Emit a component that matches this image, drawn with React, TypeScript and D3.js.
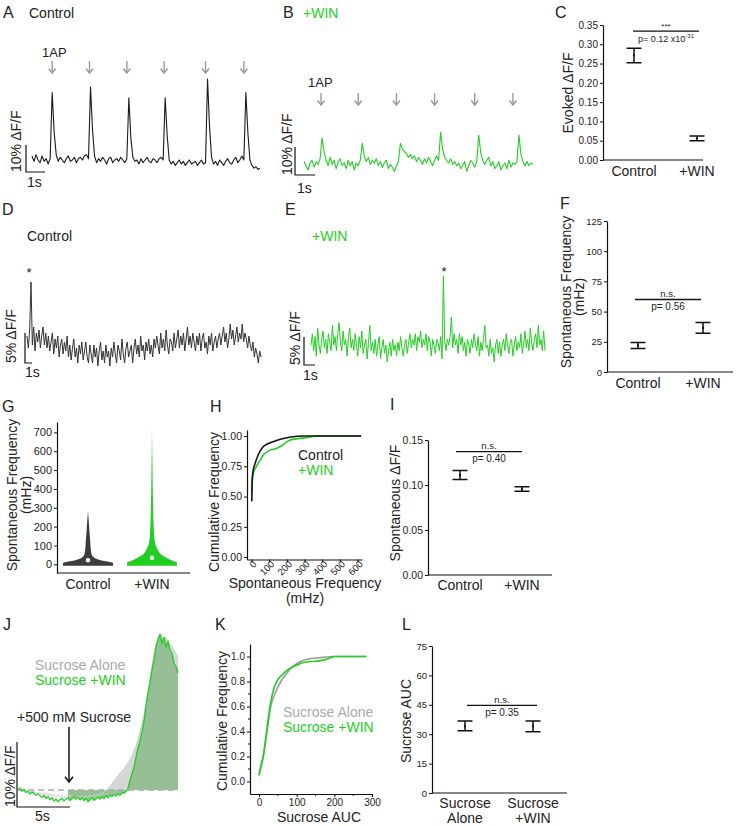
import React, { useRef, useEffect } from 'react';
import * as d3 from 'd3';

const FONT = '"Liberation Sans", Arial, sans-serif';
const GREEN = '#21cf21';
const INK = '#222';
const ARROW = '#9a9a9a';

// A: control, evoked 1AP responses (% dF/F, fixed sample step)
const A_TRACE = [1.5, -0.5, 2, 0, -1, 1.5, -0.5, 0.5, -1.5, 0.5,
  25, 10, 2,
  -0.5, 1, 0, -1, 0.5, 1.5, -0.5, 0, 1, -1, 0.5, 1, 0, 1.5, 2, 0.5,
  27, 11, 1.5,
  -1, 0.5, -0.5, 1, 0, -1.5, 0.5, 1, -1, 0, 0.5, -0.5, 1, 0, -1, 0.5,
  23, 8, 1,
  -0.5, 0, -1.5, 0.5, -1, 0, 1, -0.5, -1, 0.5, 0, -1, 0.5, 1, 0,
  23, 9, 0,
  -1.5, -0.5, -2, -1, 0, -1.5, -0.5, -2, -1, 0, -1.5, -1, -0.5, -2, -1, 0, -1.5, -1,
  30, 12, 1,
  -1.5, -0.5, -2, 0, -1, -2, -0.5, 0.5, -1, -1.5, 0, 1, -1, 0, 1.5, 0,
  25, 10, 0,
  -2, -3, -2.5, -3.5, -3];
const A_STIM = [10, 28.5, 47, 65.5, 86, 105];

// B: +WIN, evoked responses
const B_TRACE = [0.5, -1, -2.5, 0, 1, -1.5, 0.5, -0.5, 1.5,
  9, 4, 1,
  -1, 2, -0.5, 1, -2, 0.5, 1.5, -1, 0, -2, 1, -1, 0.5, -2.5, 0, -1, 1,
  7, 2.5,
  0.5, 2, -0.5, 1, 0, 1.5, -1, 0.5, -1.5, 0, 1, -2, -0.5, -1.5, -3, -1, 0.5,
  7, 5, 4, 3.5, 2, 3, 1.5, 2.5,
  0.5, 2, 1, -0.5, 1.5, 0, 2, 0.5, -1, 1, 2.5, 1,
  11, 5, 2,
  1, 0, 1.5, -0.5, 0.5, -1, 0, -2, -1, 0.5, -3, -1, 1, 0, -1.5, 0.5,
  10, 3.5, 1,
  -0.5, 1, 2, -1, 0.5, -2, -1, 0.5, -2.5, -1, 0, -2, 1, -1.5, 0, -0.5, 0.5,
  10, 3, 0.5,
  -1, 0.5, -1, 0, -0.5];
const B_STIM = [8.5, 27, 46, 65, 85, 104];

// D: control, spontaneous
const D_TRACE = [
  1.5, -0.5, 2.5, 10.5, 0, 3, -1, 2, 0.5, 2.5, -0.5, 1.5, 3, 0, 2, -0.5,
  1.5, -1, 0.5, 2, -1.5, 1, -0.5, 1.5, -2, 0, 1, -1.5, 0.5, -1, 1.5, -2,
  0, -2.5, -0.5, 1, -2, -0.5, -3, 0, -1.5, 0.5, -2.5, -1, 0.5, -2, -3, 0,
  -1.5, -3, 0, -2, -0.5, -3.5, -1, 0.5, -2.5, -1, -3, 0, -2, -1, -3.5, -0.5,
  -2, 0.5, -1.5, -3, 0, -1, -2.5, 1, -1.5, -3, -0.5, 0.5, -2, -1, 0, -3,
  -0.5, 1, -1.5, 0, -2, 1.5, -1, 0, -2.5, 0.5, -1, 1, -1.5, 0, -2, 1,
  -0.5, 1.5, 0, -1.5, 2, -0.5, 1, -1, 2.5, 0, -1.5, 1, 0.5, -1, 2, -0.5,
  1, 2.5, -0.5, 1.5, 0, 2, -1, 1, 3, 0, 1.5, -0.5, 2, 0.5, -1, 1.5,
  0, 2, -1, 1, 2, -0.5, 0.5, -1.5, 1.5, 0, 2, -1, 0.5, 1.5, -0.5, 1,
  2, 0, 1.5, 3, 0.5, 2, -0.5, 1, 3.5, 1, 2.5, 0, 1.5, 3, 0.5, 2,
  1, 3.5, 0.5, 2, 1, -0.5, 1.5, 0, -1, 0.5, -2, -0.5, -1.5, -3, -1, -2];

// E: +WIN, spontaneous
const E_TRACE = [
  0, 2, -1, 1.5, -2, 3, 0, -1.5, 1, 2.5, -0.5, 1, -1.5, 2, 0.5, -1,
  3.5, 0, 1.5, -1, 2, 4, 0.5, -1, 2.5, 0, 1, -2, 1.5, 3, -0.5, 1,
  -1, 2, 0, -2, 1.5, -0.5, 2.5, -1.5, 0, 1, -2.5, 0.5, 3.5, -1, 0.5, -1.5,
  1, -2, 0, 1.5, -2.5, -0.5, 1, -1.5, 0, -3, -1, 0.5, -2, 1, -1, 0,
  -2, 0.5, -1, 1.5, -0.5, -2, 0, 1, -1.5, 0.5, 2, -0.5, 1, 0, 2, -1,
  1.5, 0.5, 2.5, -0.5, 1, 0, 2, -1, 1.5, 0.5, -2, 1, 0, -1.5, 1, 0.5,
  -1, 1.5, -2.5, 12.3, 0.5, -1, 1, 0, 1.5, 5, -0.5, 2, 0, 1, -1.5, 2,
  0, 1.5, -1, 0.5, -2, 1, 0, -1.5, 1, -0.5, 2, 0, -1, 1.5, -2, 0.5,
  -1, 1, 3.5, -0.5, 0, -2, 1, -1.5, -0.5, -3, 0, 1, -1.5, 0.5, -2, 0,
  1, -1, 2, 0, -1.5, 0.5, 1, -2, 0, 1.5, -1, 0.5, -0.5, 2, -1.5, 0,
  2.5, -0.5, 1, -1, 3, 0.5, -1, 1, 2, -0.5, 3.5, 0, 1, -1, 2.5, -1];

// J: sucrose responses (% dF/F)
const J_WIN = [0, 0.3, -0.2, 0.1, -0.4, -0.2, -0.6, -0.3, -0.5, -0.8,
  -0.6, -0.9, -1.1, -0.8, -1.3, -1.0, -1.5, -1.2, -1.7, -1.4,
  -1.8, -1.5, -1.3, -1.7, -1.4, -1.2, -1.6, -1.3, -1.0, -1.4,
  -1.1, -1.5, -1.2, -1.6, -1.3, -1.8, -1.5, -1.2, -1.6, -1.4,
  -1.1, -1.4, -1.0, -1.3, -0.9, -1.2, -0.8, -1.0, -0.7, -0.9,
  -0.6, -0.8, -0.4, -0.5, -0.2, 0.2, 1.5, 2.5, 3.5, 5.0,
  6.5, 7.5, 9, 10.5, 13, 15, 16.5, 18.5, 20, 22,
  23, 24, 22.5, 23.5, 22, 22.8, 21.5, 21, 19.5, 19, 18];
const J_ALONE = [0.2, 0, 0.1, -0.2, 0, -0.3, -0.1, -0.4, -0.2, -0.5,
  -0.3, -0.6, -0.4, -0.7, -0.5, -0.8, -0.6, -0.9, -0.7, -1.0,
  -0.8, -1.0, -0.9, -1.1, -0.9,
  -1.0, -0.8, -1.1, -0.9, -1.2, -1.0, -1.1, -0.9, -1.2, -1.0, -1.1, -0.8, -1.0, -0.7, -0.9,
  -0.6, -0.8, -0.5, -0.3, -0.1, 0.2, 0.6, 1.0, 1.4, 1.8,
  2.2, 2.6, 2.9, 3.3, 3.7, 4.2, 4.7, 5.3, 6.0, 6.8,
  7.8, 9.0, 10.2, 11.6, 13.2, 15.0, 17.0, 19.0, 21.0, 22.5,
  23.5, 24.0, 23.8, 23.0, 23.5, 22.8, 22.5, 22.0, 21.5, 21.0, 20.5];
const J_ONSET = 25;

// G: violin outlines (value in mHz, relative density)
const G_CTRL_V = [-8, 6, 12, 20, 28, 40, 55, 80, 120, 170, 220, 280];
const G_CTRL_D = [1, 1, 0.88, 0.56, 0.36, 0.2, 0.14, 0.11, 0.09, 0.06, 0.036, 0];
const G_WIN_V = [-8, 8, 20, 32, 45, 58, 85, 120, 210, 330, 500, 725];
const G_WIN_D = [1, 1, 0.8, 0.62, 0.44, 0.32, 0.2, 0.11, 0.064, 0.04, 0.02, 0];
const G_MEDIAN = [22, 35];

// H: cumulative spontaneous frequency
const H_CTRL_X = [2, 4, 8, 20, 40, 65, 100, 145, 215, 300, 620];
const H_CTRL_Y = [0.46, 0.62, 0.7, 0.77, 0.85, 0.91, 0.94, 0.965, 0.99, 1, 1];
const H_WIN_X = [2, 5, 10, 25, 45, 65, 100, 145, 180, 215, 300, 380, 620];
const H_WIN_Y = [0.53, 0.63, 0.69, 0.74, 0.79, 0.84, 0.88, 0.9, 0.93, 0.965, 0.985, 1, 1];

// K: cumulative sucrose AUC
const K_ALONE_X = [0, 10, 20, 31, 45, 58, 75, 90, 110, 130, 160, 200, 285];
const K_ALONE_Y = [0.05, 0.18, 0.37, 0.6, 0.72, 0.8, 0.87, 0.92, 0.96, 0.98, 0.99, 1, 1];
const K_WIN_X = [0, 5, 11, 20, 29, 38, 47, 60, 75, 90, 100, 115, 135, 160, 175, 190, 200, 285];
const K_WIN_Y = [0.05, 0.13, 0.2, 0.4, 0.6, 0.73, 0.8, 0.85, 0.89, 0.92, 0.93, 0.95, 0.96, 0.965, 0.975, 0.99, 1, 1];

// summary panels (mean, lower / upper error)
const CATS = ['Control', '+WIN'];
const SUC_CATS = ['Sucrose\nAlone', 'Sucrose\n+WIN'];
const C_MEAN = [0.271, 0.056];
const C_LO = [0.252, 0.05];
const C_HI = [0.29, 0.062];
const F_MEAN = [22, 36.5];
const F_LO = [19.5, 32];
const F_HI = [24.5, 41];
const I_MEAN = [0.111, 0.0955];
const I_LO = [0.106, 0.093];
const I_HI = [0.116, 0.098];
const L_MEAN = [34, 34];
const L_LO = [31.8, 31.3];
const L_HI = [36.7, 36.7];

type G = d3.Selection<SVGGElement, unknown, null, undefined>;

function txt(g: G, x: number, y: number, s: string, o: any = {}) {
  return g.append('text')
    .attr('transform', `translate(${x},${y})${o.rot ? ' rotate(-90)' : ''}`)
    .attr('font-size', o.size ?? 14)
    .attr('text-anchor', o.anchor ?? 'start')
    .attr('fill', o.fill ?? INK)
    .text(s);
}

function trace(g: G, vals: number[], x0: number, x1: number, base: number, perUnit: number, color: string, w = 1) {
  const x = d3.scaleLinear().domain([0, vals.length - 1]).range([x0, x1]);
  const y = d3.scaleLinear().domain([0, 1]).range([base, base - perUnit]);
  g.append('path').datum(vals)
    .attr('d', d3.line<number>().x((_, i) => x(i)).y(d => y(d)))
    .attr('fill', 'none').attr('stroke', color).attr('stroke-width', w).attr('stroke-linejoin', 'round');
  return { x, y };
}

function scaleBar(g: G, x: number, yb: number, h: number, w: number) {
  g.append('path').attr('d', `M${x},${yb - h}V${yb}H${x + w}`)
    .attr('fill', 'none').attr('stroke', '#111').attr('stroke-width', 1.2);
}

function arrow(g: G, x: number, y0: number, y1: number, color: string, head = 3.5, sw = 1.4) {
  g.append('line').attr('x1', x).attr('x2', x).attr('y1', y0).attr('y2', y1 - 1)
    .attr('stroke', color).attr('stroke-width', sw);
  g.append('path').attr('d', `M${x - head},${y1 - head * 1.3}L${x},${y1}L${x + head},${y1 - head * 1.3}`)
    .attr('fill', 'none').attr('stroke', color).attr('stroke-width', sw);
}

function yAxis(g: G, scale: any, x: number, ticks: number[], fmt: (d: any) => string, size = 10) {
  const ax = g.append('g').attr('transform', `translate(${x},0)`)
    .call(d3.axisLeft(scale).tickValues(ticks).tickFormat(fmt).tickSize(3).tickSizeOuter(0).tickPadding(2) as any);
  ax.attr('font-family', FONT).attr('font-size', size);
  ax.select('.domain').attr('stroke', '#111').attr('stroke-width', 1.2);
  ax.selectAll('.tick line').attr('stroke', '#111');
  ax.selectAll('.tick text').attr('fill', INK);
  return ax;
}

function errPanel(g: G, o: any) {
  const y = d3.scaleLinear().domain(o.domain).range([o.yBot, o.yTop]);
  const x = d3.scalePoint<string>().domain(o.cats).range(o.catX);
  yAxis(g, y, o.x0, o.ticks, o.fmt, o.tickSize);
  g.append('line').attr('x1', o.x0).attr('x2', o.x1).attr('y1', o.yBot).attr('y2', o.yBot)
    .attr('stroke', '#111').attr('stroke-width', 1.2);
  o.cats.forEach((c: string, i: number) => {
    const cx = x(c)!;
    const hw = 7.5;
    g.append('path')
      .attr('d', `M${cx - hw},${y(o.hi[i])}H${cx + hw}M${cx},${y(o.hi[i])}V${y(o.lo[i])}M${cx - hw},${y(o.lo[i])}H${cx + hw}`)
      .attr('fill', 'none').attr('stroke', '#111').attr('stroke-width', 1.5);
    g.append('circle').attr('cx', cx).attr('cy', y(o.mean[i])).attr('r', 1.1).attr('fill', '#111');
    c.split('\n').forEach((line, k) => txt(g, cx, o.catY + k * 15, line, { anchor: 'middle' }));
  });
  const sy = y(o.sig);
  g.append('line').attr('x1', o.sigX[0]).attr('x2', o.sigX[1]).attr('y1', sy).attr('y2', sy)
    .attr('stroke', '#111').attr('stroke-width', 1.3);
  const mid = (o.sigX[0] + o.sigX[1]) / 2;
  txt(g, mid, sy - 2.5, o.star, { anchor: 'middle', size: o.starSize ?? 9.5 });
  const p = txt(g, mid, sy + 10.5, o.p, { anchor: 'middle', size: o.pSize ?? 10 });
  if (o.pSup) p.append('tspan').attr('dy', -4).attr('font-size', 6).text(o.pSup);
  txt(g, o.labX, o.labY, o.label, { rot: true, anchor: 'middle' });
}

export default function App() {
  const ref = useRef<SVGSVGElement>(null);

  useEffect(() => {
    const svg = d3.select(ref.current);
    svg.selectAll('*').remove();
    const g = svg.append('g') as unknown as G;

    // panel letters
    const letters: [string, number, number][] = [['A', 3, 18], ['B', 283, 18], ['C', 555, 18], ['D', 2, 215],
      ['E', 285, 215], ['F', 560, 209], ['G', 2, 412], ['H', 210, 412], ['I', 390, 410],
      ['J', 3, 630], ['K', 215, 630], ['L', 402, 630]];
    letters.forEach(([s, x, y]) => txt(g, x, y, s, { size: 16 }));

    // ---- A
    txt(g, 29, 18, 'Control');
    txt(g, 42, 57, '1AP', { size: 13 });
    const a = trace(g, A_TRACE, 32, 260, 160, 2.7, '#1a1a1a', 1.1);
    A_STIM.forEach(s => arrow(g, a.x(s), 61, 73, ARROW));
    scaleBar(g, 26, 172, a.y(0) - a.y(10), 19);
    txt(g, 21, 172, '10% \u0394F/F', { rot: true });
    txt(g, 27, 187, '1s');

    // ---- B
    txt(g, 303, 18, '+WIN', { fill: GREEN });
    txt(g, 308, 87, '1AP', { size: 13 });
    const b = trace(g, B_TRACE, 304, 533, 163, 2.8, GREEN, 1.1);
    B_STIM.forEach(s => arrow(g, b.x(s), 93, 105, ARROW));
    scaleBar(g, 295, 175, b.y(0) - b.y(10), 20);
    txt(g, 292, 175, '10% \u0394F/F', { rot: true });
    txt(g, 297, 193, '1s');

    // ---- C
    errPanel(g, {
      domain: [0, 0.35], yBot: 160, yTop: 25, x0: 603, x1: 703, catX: [634, 697], cats: CATS,
      ticks: d3.range(0, 0.351, 0.05), fmt: d3.format('.2f'), tickSize: 10,
      mean: C_MEAN, lo: C_LO, hi: C_HI, catY: 176,
      sig: 0.334, sigX: [633, 699], star: '***', starSize: 8, p: 'p= 0.12 x10', pSup: '-31', pSize: 9,
      label: 'Evoked \u0394F/F', labX: 573, labY: 93,
    });

    // ---- D
    txt(g, 27, 241, 'Control');
    txt(g, 29, 277, '*', { anchor: 'middle', size: 13 });
    const dd = trace(g, D_TRACE, 27, 261, 345, 6, '#333', 1);
    scaleBar(g, 25, 363, dd.y(0) - dd.y(5), 7);
    txt(g, 16, 363, '5% \u0394F/F', { rot: true });
    txt(g, 25, 377, '1s');

    // ---- E
    txt(g, 312, 241, '+WIN', { fill: GREEN });
    txt(g, 444, 276, '*', { anchor: 'middle', size: 13 });
    const e = trace(g, E_TRACE, 311, 545, 345, 5.6, GREEN, 1);
    scaleBar(g, 304, 365, e.y(0) - e.y(5), 11);
    txt(g, 300, 365, '5% \u0394F/F', { rot: true });
    txt(g, 303, 380, '1s');

    // ---- F
    errPanel(g, {
      domain: [0, 125], yBot: 372, yTop: 221, x0: 607, x1: 733, catX: [638, 703], cats: CATS,
      ticks: d3.range(0, 126, 25), fmt: d3.format('d'), tickSize: 9.5,
      mean: F_MEAN, lo: F_LO, hi: F_HI, catY: 388,
      sig: 60, sigX: [635, 701], star: 'n.s.', p: 'p= 0.56',
      label: 'Spontaneous Frequency', labX: 571, labY: 292,
    });
    txt(g, 584, 297, '(mHz)', { rot: true, anchor: 'middle' });

    // ---- G
    {
      const y = d3.scaleLinear().domain([-46, 755]).range([573, 422]);
      const w = d3.scaleLinear().domain([0, 1]).range([0, 25]);
      const x = d3.scalePoint<string>().domain(CATS).range([88, 152]);
      yAxis(g, y, 57, d3.range(0, 701, 100), d3.format('d'), 11);
      g.append('line').attr('x1', 57).attr('x2', 190).attr('y1', 573).attr('y2', 573)
        .attr('stroke', '#111').attr('stroke-width', 1.2);
      const sets: [number[], number[], string][] = [[G_CTRL_V, G_CTRL_D, '#3c3c3c'], [G_WIN_V, G_WIN_D, GREEN]];
      sets.forEach(([vs, ds, col], i) => {
        const cx = x(CATS[i])!;
        const pts = vs.map((v, k) => [v, ds[k]] as [number, number]);
        const area = d3.area<[number, number]>()
          .y(p => y(p[0])).x0(p => cx - w(p[1])).x1(p => cx + w(p[1]))
          .curve(d3.curveMonotoneY);
        g.append('path').datum(pts).attr('d', area).attr('fill', col);
        g.append('circle').attr('cx', cx).attr('cy', y(G_MEDIAN[i])).attr('r', 2.2).attr('fill', '#fff');
        txt(g, cx, 589, CATS[i], { anchor: 'middle' });
      });
      txt(g, 17, 495, 'Spontaneous Frequency', { rot: true, anchor: 'middle' });
      txt(g, 31, 495, '(mHz)', { rot: true, anchor: 'middle' });
    }

    // ---- H
    {
      const x = d3.scaleLinear().domain([-25, 625]).range([247, 362]);
      const y = d3.scaleLinear().domain([-0.02, 1.05]).range([559.5, 430]);
      yAxis(g, y, 247, [0, 0.25, 0.5, 0.75, 1], d3.format('.2f'), 10.5);
      const ax = g.append('g').attr('transform', 'translate(0,559.5)')
        .call(d3.axisBottom(x).tickValues(d3.range(0, 601, 100)).tickSize(3).tickSizeOuter(0) as any);
      ax.attr('font-family', FONT).attr('font-size', 9.5);
      ax.select('.domain').attr('stroke', '#111').attr('stroke-width', 1.2);
      ax.selectAll('.tick text').attr('transform', 'translate(3,3) rotate(-45)')
        .attr('text-anchor', 'end').attr('x', 0).attr('y', 0).attr('dy', '0.35em').attr('fill', INK);
      const line = d3.line<number>().curve(d3.curveMonotoneX);
      g.append('path').attr('d', line.x((_, i) => x(H_WIN_X[i])).y(d => y(d))(H_WIN_Y))
        .attr('fill', 'none').attr('stroke', GREEN).attr('stroke-width', 1.6);
      g.append('path').attr('d', line.x((_, i) => x(H_CTRL_X[i])).y(d => y(d))(H_CTRL_Y))
        .attr('fill', 'none').attr('stroke', '#111').attr('stroke-width', 1.6);
      txt(g, 298, 460, 'Control');
      txt(g, 298, 475, '+WIN', { fill: GREEN });
      txt(g, 219, 502, 'Cumulative Frequency', { rot: true, anchor: 'middle' });
      txt(g, 305, 588, 'Spontaneous Frequency', { anchor: 'middle' });
      txt(g, 305, 603, '(mHz)', { anchor: 'middle' });
    }

    // ---- I
    errPanel(g, {
      domain: [0, 0.15], yBot: 575, yTop: 440, x0: 428, x1: 552, catX: [460, 522], cats: CATS,
      ticks: [0, 0.05, 0.1, 0.15], fmt: d3.format('.2f'), tickSize: 10.5,
      mean: I_MEAN, lo: I_LO, hi: I_HI, catY: 590,
      sig: 0.137, sigX: [456, 522], star: 'n.s.', p: 'p= 0.40',
      label: 'Spontaneous \u0394F/F', labX: 400, labY: 503,
    });

    // ---- J
    {
      const x = d3.scaleLinear().domain([0, J_WIN.length - 1]).range([18, 178]);
      const y = d3.scaleLinear().domain([0, 1]).range([790, 783.5]);
      const idx = d3.range(J_ONSET, J_WIN.length);
      const area = (vals: number[]) => d3.area<number>().x(i => x(i)).y0(y(0)).y1(i => y(vals[i]))(idx);
      g.append('path').attr('d', area(J_ALONE)).attr('fill', '#d6d6d6');
      g.append('path').attr('d', area(J_WIN)).attr('fill', '#8fbc8f').attr('fill-opacity', 0.9);
      g.append('line').attr('x1', x(0)).attr('x2', x(J_WIN.length - 1)).attr('y1', y(0)).attr('y2', y(0))
        .attr('stroke', '#aaa').attr('stroke-width', 1.5).attr('stroke-dasharray', '6,4');
      const line = d3.line<number>().x((_, i) => x(i)).y(d => y(d));
      g.append('path').attr('d', line(J_ALONE)).attr('fill', 'none').attr('stroke', '#cfcfcf').attr('stroke-width', 1);
      g.append('path').attr('d', line(J_WIN)).attr('fill', 'none').attr('stroke', GREEN).attr('stroke-width', 1.3);
      arrow(g, x(J_ONSET) + 1, 727, 782, '#111', 4, 1.5);
      txt(g, 35, 670, 'Sucrose Alone', { fill: '#aaa' });
      txt(g, 35, 685, 'Sucrose +WIN', { fill: GREEN });
      txt(g, 17, 722, '+500 mM Sucrose');
      scaleBar(g, 17, 807, y(0) - y(10), 53);
      txt(g, 15, 807, '10% \u0394F/F', { rot: true });
      txt(g, 35, 821, '5s');
    }

    // ---- K
    {
      const x = d3.scaleLinear().domain([-24, 300]).range([250, 372]);
      const y = d3.scaleLinear().domain([-0.1, 1.1]).range([794, 644]);
      const ya = yAxis(g, y, 250, [0, 0.2, 0.4, 0.6, 0.8, 1], d3.format('.1f'), 10);
      [0.1, 0.3, 0.5, 0.7, 0.9].forEach(v => ya.append('line').attr('x1', -2).attr('x2', 0)
        .attr('y1', y(v)).attr('y2', y(v)).attr('stroke', '#111'));
      const ax = g.append('g').attr('transform', 'translate(0,794)')
        .call(d3.axisBottom(x).tickValues([0, 100, 200, 300]).tickSize(3).tickSizeOuter(0).tickPadding(2) as any);
      ax.attr('font-family', FONT).attr('font-size', 10);
      ax.select('.domain').attr('stroke', '#111').attr('stroke-width', 1.2);
      ax.selectAll('.tick text').attr('fill', INK);
      [50, 150, 250].forEach(v => ax.append('line').attr('x1', x(v)).attr('x2', x(v))
        .attr('y1', 0).attr('y2', 2).attr('stroke', '#111'));
      const line = d3.line<number>().curve(d3.curveMonotoneX);
      g.append('path').attr('d', line.x((_, i) => x(K_ALONE_X[i])).y(d => y(d))(K_ALONE_Y))
        .attr('fill', 'none').attr('stroke', '#9a9a9a').attr('stroke-width', 1.6);
      g.append('path').attr('d', line.x((_, i) => x(K_WIN_X[i])).y(d => y(d))(K_WIN_Y))
        .attr('fill', 'none').attr('stroke', GREEN).attr('stroke-width', 1.6);
      txt(g, 283, 717, 'Sucrose Alone', { fill: '#aaa' });
      txt(g, 283, 732, 'Sucrose +WIN', { fill: GREEN });
      txt(g, 227, 721, 'Cumulative Frequency', { rot: true, anchor: 'middle' });
      txt(g, 319, 822, 'Sucrose AUC', { anchor: 'middle' });
    }

    // ---- L
    errPanel(g, {
      domain: [0, 75], yBot: 793, yTop: 646, x0: 432, x1: 567, catX: [465, 533], cats: SUC_CATS,
      ticks: d3.range(0, 76, 15), fmt: d3.format('d'), tickSize: 9.5,
      mean: L_MEAN, lo: L_LO, hi: L_HI, catY: 808,
      sig: 44.7, sigX: [467, 537], star: 'n.s.', p: 'p= 0.35',
      label: 'Sucrose AUC', labX: 411, labY: 721,
    });
  }, []);

  return (
    <svg ref={ref} width={736} height={826}
      style={{ position: 'absolute', left: 0, top: 0, background: '#fff', fontFamily: FONT }} />
  );
}
